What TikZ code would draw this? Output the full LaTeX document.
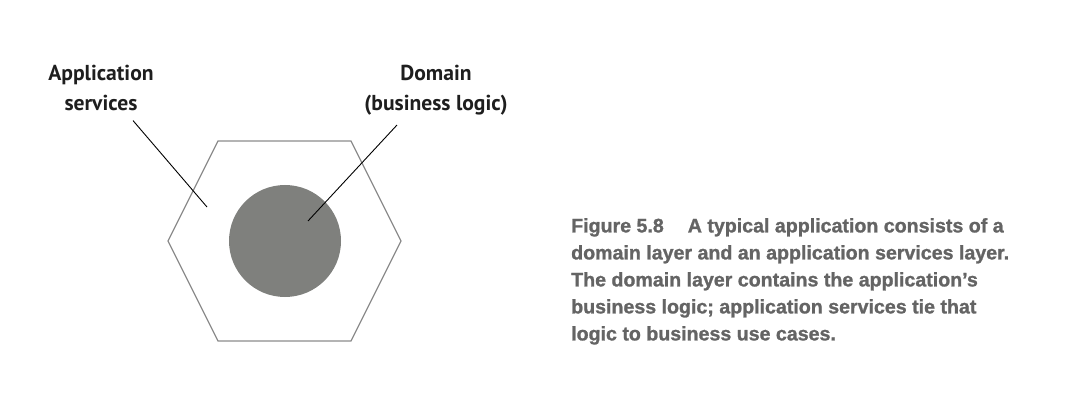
\documentclass[tikz,border=0pt]{standalone}
\usepackage{fontspec}
\setmainfont{PT Sans}
\newfontfamily\captionfont[BoldFeatures={FakeBold=1.2}]{Liberation Sans}
\usetikzlibrary{positioning}
\definecolor{hexgray}{HTML}{8C8C8C}
\definecolor{corefill}{HTML}{7F807D}
\definecolor{captiongray}{HTML}{646464}
\definecolor{labelink}{HTML}{1E1E1E}
\tikzset{
  labeltext/.style={align=center, inner sep=0pt, text=labelink,
    font=\fontsize{21.6}{29.5}\selectfont\bfseries},
  captiontext/.style={align=left, inner sep=0pt, text=captiongray,
    font=\captionfont\fontsize{19.6}{27}\selectfont\bfseries},
  leader/.style={draw=black, line width=0.9pt}
}
\begin{document}
\begin{tikzpicture}[x=1pt, y=-1pt]
        \useasboundingbox (0,0) rectangle (1084,414);
        % hexagon corners
        \foreach \hx/\hy [count=\i] in {218/141, 351/141, 401/241, 351/341, 218/341, 168/241} {
            \coordinate (h\i) at (\hx,\hy);
        }
        \draw[hexgray, line width=1.2pt] (h1)--(h2)--(h3)--(h4)--(h5)--(h6)--cycle;
        \node[circle, fill=corefill, minimum size=112pt, inner sep=0pt] (core) at (285,241) {};

        \node[labeltext, anchor=north] (applabel) at (101,65) {Application\\services};
        \node[labeltext, anchor=north] (domlabel) at (436,65) {Domain\\(business logic)};
        \coordinate (apptip) at (207,207);
        \coordinate (domtip) at (308,221);
        \draw[leader] ([xshift=32pt,yshift=-10pt]applabel.south) -- (apptip);
        \draw[leader] ([xshift=-39pt,yshift=-10pt]domlabel.south) -- (domtip);

        \node[captiontext, anchor=north west] (caption) at (571,218)
            {Figure 5.8\hspace{24pt}A typical application consists of a\\
             domain layer and an application services layer.\\
             The domain layer contains the application’s\\
             business logic; application services tie that\\
             logic to business use cases.};
    \end{tikzpicture}
\end{document}
